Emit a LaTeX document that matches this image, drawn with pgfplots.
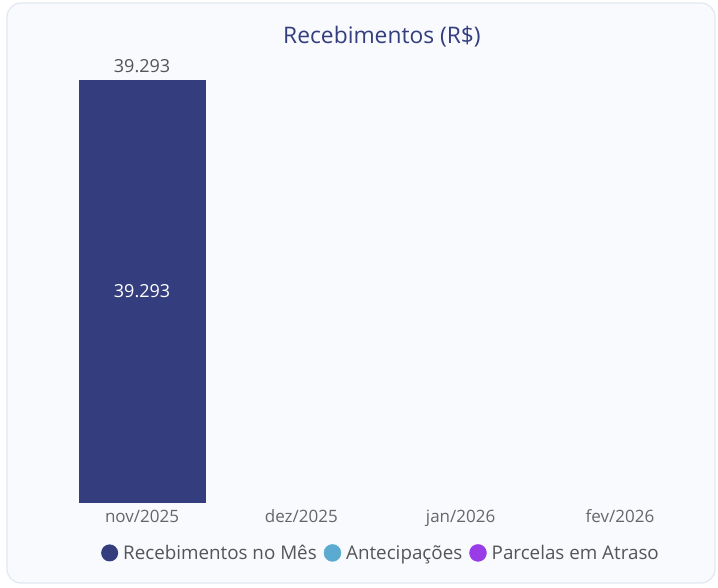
\documentclass[border=0pt]{standalone}
\usepackage{pgfplots}
\pgfplotsset{compat=1.18}
\usepackage{fontspec}
\setmainfont{Open Sans}
\definecolor{barblue}{RGB}{52,61,126}
\definecolor{lblue}{RGB}{91,171,208}
\definecolor{purp}{RGB}{154,59,232}
\definecolor{cardbg}{RGB}{248,250,254}
\definecolor{cardline}{RGB}{226,232,240}
\definecolor{txtgray}{RGB}{85,85,85}
\definecolor{tickgray}{RGB}{102,102,102}
\begin{document}
\begin{tikzpicture}[x=1pt,y=1pt]
\path[use as bounding box] (0,0) rectangle (718,587);
\draw[cardline, fill=cardbg, line width=1.2pt, rounded corners=14pt] (7,4) rectangle (715,584);
\node[barblue, font=\fontsize{22.8}{26}\selectfont] at (382,550) {Recebimentos (R\$)};
\begin{axis}[
  at={(62.4pt,84pt)}, anchor=south west,
  scale only axis, width=637.2pt, height=423pt,
  xmin=-0.5, xmax=3.5, ymin=0, ymax=39293,
  axis line style={draw=none},
  major tick length=0pt,
  ytick=\empty,
  xtick={0,1,2,3},
  xticklabels={nov/2025,dez/2025,jan/2026,fev/2026},
  xticklabel style={text=tickgray, font=\fontsize{17}{20}\selectfont, yshift=-3.5pt,
    text height=12.5pt, text depth=4pt},
  clip=false,
  /pgf/number format/assume math mode=true,
  /pgf/number format/.cd, fixed, precision=0, 1000 sep={.},
  /pgfplots/.cd,
  legend style={at={(0.5,-0.118)}, anchor=center, draw=none, fill=none,
    legend columns=3, font=\fontsize{18.8}{22}\selectfont, text=txtgray,
    /tikz/every even column/.append style={column sep=5pt},
    /tikz/every odd column/.append style={column sep=3pt}},
  legend image code/.code={\fill[#1] (6pt,0pt) circle (8.5pt);},
]
\addplot[ybar, bar width=127pt, fill=barblue, draw=none,
  nodes near coords,
  every node near coord/.append style={text=txtgray, font=\fontsize{18}{21}\selectfont, yshift=3.5pt}]
  coordinates {(0,39293)};
\addlegendentry{Recebimentos no Mês}
\addlegendimage{lblue}
\addlegendentry{Antecipações}
\addlegendimage{purp}
\addlegendentry{Parcelas em Atraso}
\node[white, font=\fontsize{18}{21}\selectfont] at (axis cs:0,19646.5) {39.293};
\end{axis}
\end{tikzpicture}
\end{document}
